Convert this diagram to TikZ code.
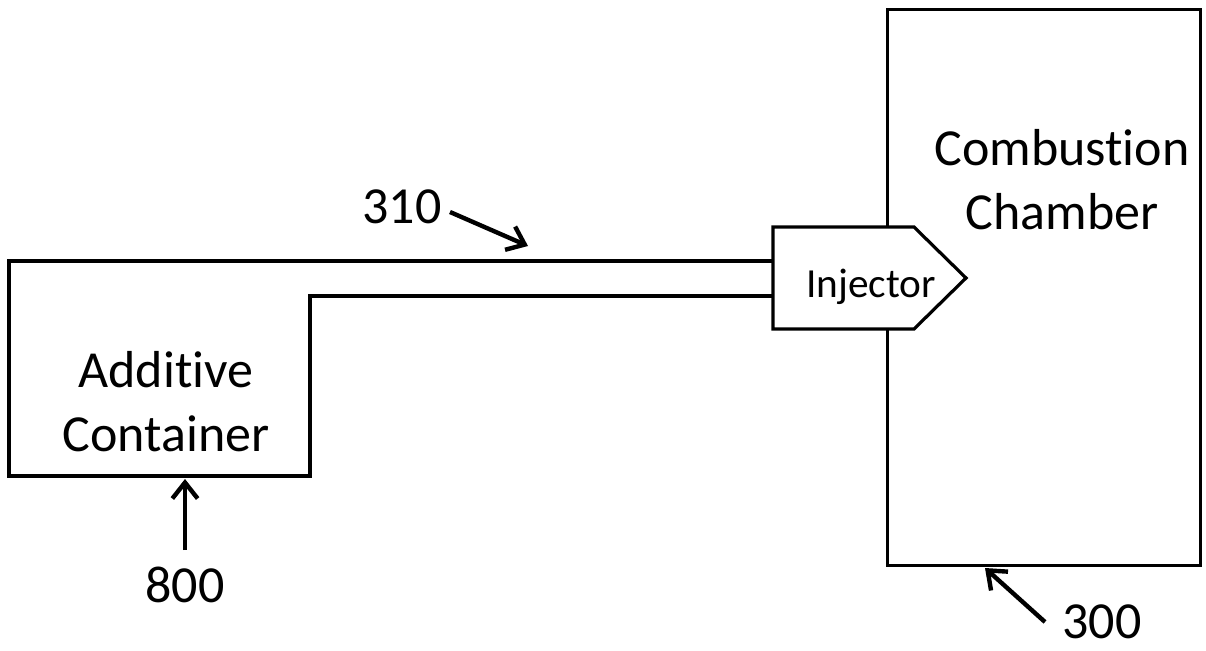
\documentclass[tikz,border=0pt]{standalone}
\usepackage{fontspec}
\setmainfont[Ligatures={NoCommon}]{Carlito}
\usetikzlibrary{arrows.meta}
\begin{document}
\begin{tikzpicture}[x=0.75pt,y=-0.75pt,
  outline/.style={line width=2.4pt, line join=miter},
  lbl/.style={font=\fontsize{39}{48}\selectfont, inner sep=0pt, align=center},
  small/.style={font=\fontsize{31}{38}\selectfont, inner sep=0pt},
  lead/.style={line width=3.3pt, -{Straight Barb[length=12pt,width=19pt,line width=3.3pt]}}]
\useasboundingbox (0,0) rectangle (1206,650);
% combustion chamber
\node[draw, outline, minimum width=234.75pt, minimum height=417pt, anchor=north west, inner sep=0pt] (chamber) at (886,8) {};
\node[lbl] (chtext) at (1062,180) {Combust\kern0pt ion\\Chamber};
% injector
\draw[outline, fill=white] (773,227) coordinate (injtl) -- (914,227) -- (966,278) coordinate (injtip) -- (914,329) -- (773,329) coordinate (injbl) -- cycle;
\node[small] (inj) at (871,287) {Injector};
% container with pipe
\coordinate (pipetop) at (773,261);
\coordinate (pipebot) at (773,296);
\draw[outline] (pipetop) -- (9,261) -- (9,476) -- (310,476) -- (310,296) -- (pipebot);
\node[lbl] (cont) at (166,402) {Addit\kern0pt ive\\Container};
% reference labels
\node[lbl] (l310) at (402,207) {310};
\node[lbl] (l800) at (185,585) {800};
\node[lbl] (l300) at (1102,622) {300};
\coordinate (a310s) at (450,212);
\coordinate (a310e) at (528,246);
\coordinate (a800s) at (185,550);
\coordinate (a800e) at (185,479);
\coordinate (a300s) at (1045,622);
\coordinate (a300e) at (985,568);
\draw[lead] (a310s) -- (a310e);
\draw[lead] (a800s) -- (a800e);
\draw[lead] (a300s) -- (a300e);
\end{tikzpicture}
\end{document}
